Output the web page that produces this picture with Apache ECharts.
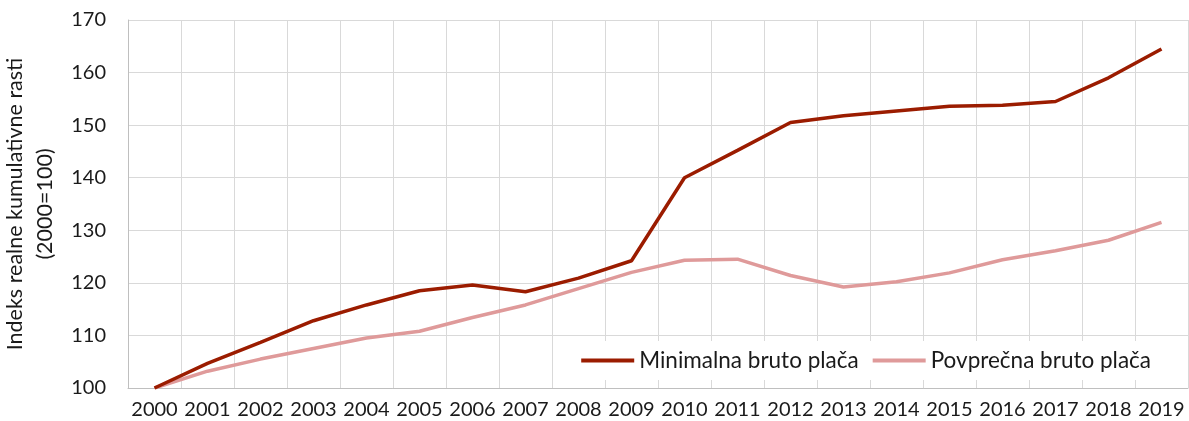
<!DOCTYPE html>
<html>
<head>
<meta charset="utf-8">
<script src="https://cdn.jsdelivr.net/npm/echarts@6/dist/echarts.min.js"></script>
<style>
    html, body { margin: 0; padding: 0; background: #ffffff; }
    #chart { width: 1189px; height: 421px; }
</style>
</head>
<body>
<div id="chart"></div>
<script>
// Data
const years = ['2000', '2001', '2002', '2003', '2004', '2005', '2006', '2007', '2008', '2009',
               '2010', '2011', '2012', '2013', '2014', '2015', '2016', '2017', '2018', '2019'];

const minimalnaPlaca = [100, 104.7, 108.7, 112.8, 115.8, 118.5, 119.6, 118.3, 120.9, 124.2,
                        140.0, 145.2, 150.5, 151.8, 152.7, 153.6, 153.8, 154.5, 159.0, 164.5];

const povprecnaPlaca = [100, 103.2, 105.5, 107.5, 109.5, 110.8, 113.4, 115.8, 118.9, 122.0,
                        124.3, 124.5, 121.4, 119.2, 120.2, 121.9, 124.4, 126.1, 128.1, 131.5];

const yTicks = { min: 100, max: 170, step: 10 };

const FONT = 'Lato';
const TEXT_COLOR = '#1a1a1a';

document.addEventListener('DOMContentLoaded', function() {
    initializeChart();
});

function initializeChart() {
    const chart = echarts.init(document.getElementById('chart'));
    const option = {
        backgroundColor: '#ffffff',
        animation: false,
        textStyle: {
            fontFamily: FONT,
            color: TEXT_COLOR
        },
        grid: {
            left: 128,
            right: 1,
            top: 20,
            bottom: 33,
            containLabel: false,
            outerBoundsMode: 'none'
        },
        legend: {
            right: 24,
            top: 341,
            padding: [8, 14, 8, 14],
            backgroundColor: '#ffffff',
            icon: 'rect',
            itemWidth: 53,
            itemHeight: 4,
            itemGap: 14,
            textStyle: {
                fontFamily: FONT,
                fontSize: 22.5,
                lineHeight: 22,
                color: TEXT_COLOR
            },
            data: ['Minimalna bruto plača', 'Povprečna bruto plača']
        },
        xAxis: {
            type: 'category',
            data: years,
            boundaryGap: true,
            axisLine: {
                lineStyle: { color: '#bfbfbf', width: 1 }
            },
            axisTick: { show: false },
            axisLabel: {
                color: TEXT_COLOR,
                fontFamily: FONT,
                fontSize: 20,
                margin: 12,
                interval: 0
            },
            splitLine: {
                show: true,
                interval: 0,
                lineStyle: { color: '#d9d9d9', width: 1 }
            }
        },
        yAxis: {
            type: 'value',
            min: yTicks.min,
            max: yTicks.max,
            interval: yTicks.step,
            name: 'Indeks realne kumulativne rasti\n(2000=100)',
            nameLocation: 'middle',
            nameGap: 56,
            nameTextStyle: {
                fontFamily: FONT,
                fontSize: 21.5,
                lineHeight: 30,
                color: TEXT_COLOR
            },
            axisLine: {
                show: true,
                lineStyle: { color: '#bfbfbf', width: 1 }
            },
            axisTick: { show: false },
            axisLabel: {
                color: TEXT_COLOR,
                fontFamily: FONT,
                fontSize: 20,
                margin: 22
            },
            splitLine: {
                lineStyle: { color: '#d9d9d9', width: 1 }
            }
        },
        series: [
            {
                name: 'Minimalna bruto plača',
                type: 'line',
                data: minimalnaPlaca,
                symbol: 'none',
                lineStyle: { color: '#9b1c00', width: 3.5 },
                itemStyle: { color: '#9b1c00' },
                z: 3
            },
            {
                name: 'Povprečna bruto plača',
                type: 'line',
                data: povprecnaPlaca,
                symbol: 'none',
                lineStyle: { color: '#df9a9a', width: 3.5 },
                itemStyle: { color: '#df9a9a' },
                z: 2
            }
        ]
    };
    chart.setOption(option);

    window.addEventListener('resize', function() {
        chart.resize();
    });
}
</script>
</body>
</html>
